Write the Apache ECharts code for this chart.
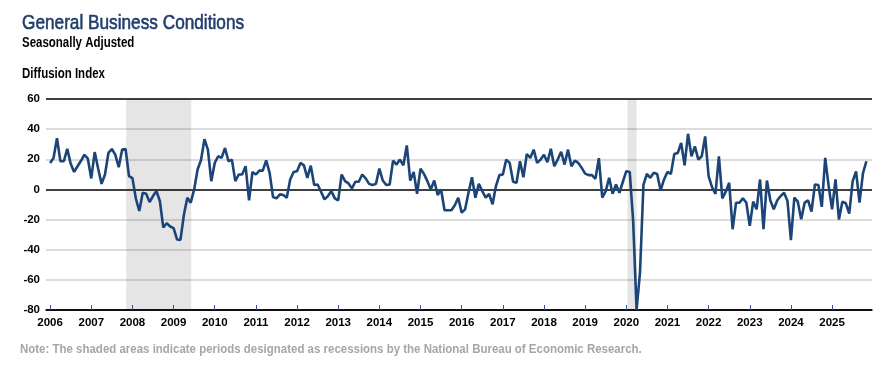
<!DOCTYPE html>
<html>
<head>
<meta charset="utf-8">
<script src="https://cdn.jsdelivr.net/npm/echarts@6/dist/echarts.min.js"></script>
<style>
html,body{margin:0;padding:0;background:#fff;}
#chart{width:895px;height:375px;}
</style>
</head>
<body>
<div id="chart"></div>
<script>
// Tick labels (years) and recession periods (decimal years)
const yearTicks = [2006,2007,2008,2009,2010,2011,2012,2013,2014,2015,2016,2017,2018,2019,2020,2021,2022,2023,2024,2025];
const recessions = [[2007.85, 2009.43], [2020.03, 2020.25]];

// Monthly values, Jan..Dec, by year
const v2006 = [17.6, 20.9, 34, 18.7, 18.7, 27, 17, 11.6, 15.4, 19, 23, 20.4];
const v2007 = [7.3, 24.8, 13.9, 3.7, 9.9, 24.2, 26.8, 23.1, 14.7, 26.4, 26.8, 8.8];
const v2008 = [7.5, -6, -14.3, -2.2, -2.9, -8.4, -4.4, -1.1, -7.7, -25.3, -22.4, -24.6];
const v2009 = [-25.7, -33.2, -33.5, -17, -5.5, -8.8, 0, 13.2, 19.5, 33.4, 26.4, 5.5];
const v2010 = [17.6, 22, 20.9, 27.5, 18.7, 19.8, 5.5, 9.9, 9.9, 15.4, -7.3, 11.6];
const v2011 = [9.9, 12.5, 12.5, 19.3, 11, -5.1, -5.9, -3.3, -3.7, -5.5, 6.6, 11.6];
const v2012 = [12.1, 17.6, 16, 7.7, 15.8, 2.9, 3.3, -1.5, -6.6, -4.4, -1.1, -5.9];
const v2013 = [-7.3, 9.9, 5.5, 4, 0.7, 5.1, 5.1, 9.9, 7.3, 3.7, 2.9, 3.7];
const v2014 = [13.8, 5.9, 2.9, 3.3, 19.1, 16.5, 19.8, 16, 29.2, 5.9, 11.6, -2.9];
const v2015 = [13.8, 10.3, 5.5, 0, 5.9, -3.7, 0, -13.8, -13.8, -13.8, -10.5, -5.5];
const v2016 = [-15.4, -13.2, -2, 8.1, -5.5, 3.7, -1.1, -5.5, -2.9, -9.9, 2.2, 9.5];
const v2017 = [9.9, 19.8, 17.6, 5.1, 4.4, 18.7, 8.1, 23.5, 20.9, 26.4, 17.6, 19.8];
const v2018 = [23, 18, 27, 15.4, 19.8, 25, 16.5, 26.4, 15.4, 19.1, 17.6, 14.3];
const v2019 = [10.5, 9.5, 9.5, 7, 20.7, -5.5, -1.1, 7.7, -2.9, 3.3, -2.2, 5.1];
const v2020 = [12.1, 11.6, -21, -80, -55, 3, 10.3, 7.7, 11, 10.3, -0.7, 6.6];
const v2021 = [11.6, 10.3, 23.5, 24.2, 30.8, 16, 36.9, 22, 28.6, 19.8, 22, 35.2];
const v2022 = [8.8, 1.5, -2.9, 22, -5.9, -1.5, 4.4, -26.4, -8.8, -8.8, -5.9, -8.8];
const v2023 = [-24.2, -8.1, -13.2, 6.6, -26.4, 5.9, -7.3, -13.2, -7.3, -4.4, -2.2, -7.7];
const v2024 = [-33.6, -5.5, -8.1, -19.8, -8.8, -7.3, -14.7, 3.3, 2.9, -11.6, 20.9, 2.2];
const v2025 = [-13.2, 6.6, -20.0, -8.1, -9.2, -16.0, 5.5, 11.9, -8.7, 10.7, 18.7];

const byYear = [v2006,v2007,v2008,v2009,v2010,v2011,v2012,v2013,v2014,v2015,v2016,v2017,v2018,v2019,v2020,v2021,v2022,v2023,v2024,v2025];
const seriesData = [];
byYear.forEach((arr, yi) => {
  arr.forEach((v, mi) => { seriesData.push([2006 + yi + mi / 12, v]); });
});

const sans = "'Liberation Sans', Arial, sans-serif";
// condensed text (Arial-Narrow look) drawn as scaled graphic text
function narrowText(text, x, y, size, weight, color, sx, strokeW) {
  const style = {text: text, fill: color, font: weight + ' ' + size + 'px ' + sans, verticalAlign: 'top', align: 'left'};
  if (strokeW) { style.stroke = color; style.lineWidth = strokeW; }
  return {type: 'text', x: x, y: y, scaleX: sx || 0.82, silent: true, style: style};
}

const chart = echarts.init(document.getElementById('chart'), null, {renderer: 'canvas'});
chart.setOption({
  animation: false,
  backgroundColor: '#ffffff',
  graphic: [
    narrowText('General Business Conditions', 22, 13, 21, 'normal', '#1f3d6b', 0.82, 0.6),
    narrowText('Seasonally Adjusted', 22, 36, 14, 'bold', '#000'),
    narrowText('Diffusion Index', 22, 67, 14, 'bold', '#000'),
    narrowText('Note: The shaded areas indicate periods designated as recessions by the National Bureau of Economic Research.', 20, 342, 13.5, 'bold', '#a6a6a6', 0.85)
  ],
  grid: {left: 46, right: 23, top: 99, bottom: 65, containLabel: false},
  xAxis: {
    type: 'value', min: 2005.9, max: 2025.97,
    axisLine: {show: true, onZero: false, lineStyle: {color: '#000', width: 1.5}},
    axisTick: {show: true, inside: true, length: 5, customValues: yearTicks,
               lineStyle: {color: '#2e5597', width: 1}},
    axisLabel: {customValues: yearTicks, margin: 7, fontFamily: sans, fontSize: 11.5,
                fontWeight: 'bold', color: '#000', formatter: v => String(Math.round(v))},
    splitLine: {show: false}
  },
  yAxis: {
    type: 'value', min: -80, max: 60, interval: 20,
    axisLine: {show: false}, axisTick: {show: false},
    axisLabel: {margin: 6, fontFamily: sans, fontSize: 11.5, fontWeight: 'bold', color: '#000'},
    splitLine: {show: true, lineStyle: {width: 1.5,
      color: ['#000', '#d0d0d0', '#d0d0d0', '#d0d0d0', '#000', '#d0d0d0', '#d0d0d0', '#000']}}
  },
  series: [{
    type: 'line', data: seriesData, showSymbol: false, symbol: 'none',
    lineStyle: {color: '#1b4477', width: 2.6}, z: 5,
    markArea: {silent: true, itemStyle: {color: 'rgba(0,0,0,0.1)'},
      data: recessions.map(r => [{xAxis: r[0]}, {xAxis: r[1]}])}
  }]
});
</script>
</body>
</html>
